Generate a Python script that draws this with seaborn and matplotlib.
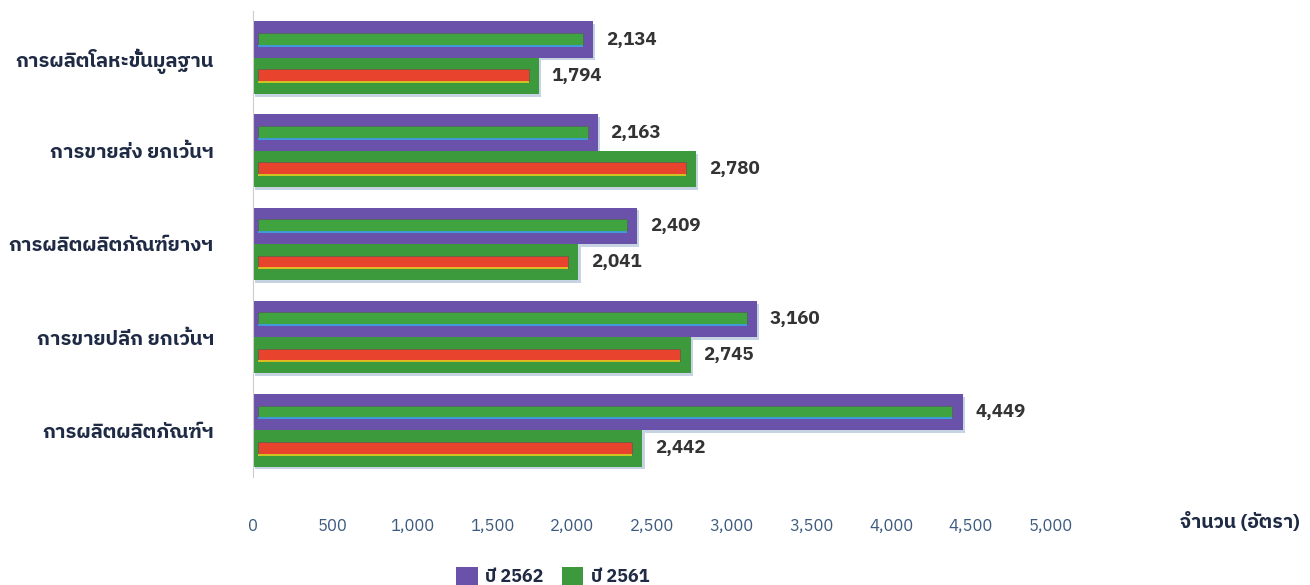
import numpy as np
import pandas as pd
import matplotlib
matplotlib.use('Agg')
import matplotlib.pyplot as plt
import seaborn as sns
from matplotlib import font_manager
from matplotlib.ft2font import FT2Font
from matplotlib import patheffects as pe

# ---------------- data ----------------
categories = ['การผลิตโลหะขั้นมูลฐาน', 'การขายส่ง ยกเว้นฯ', 'การผลิตผลิตภัณฑ์ยางฯ',
              'การขายปลีก ยกเว้นฯ', 'การผลิตผลิตภัณฑ์ฯ']
years = ['ปี 2562', 'ปี 2561']
values_2562 = [2134, 2163, 2409, 3160, 4449]
values_2561 = [1794, 2780, 2041, 2745, 2442]
xticks = np.arange(0, 5001, 500)

# ---------------- font with thai glyphs ----------------
def find_thai_font():
    found = []
    for f in font_manager.fontManager.ttflist:
        try:
            if FT2Font(f.fname).get_char_index(ord('ก')):
                found.append(f.name)
        except Exception:
            pass
    pref = [n for n in found if 'Thai' in n or 'Tahoma' in n]
    if pref:
        return pref[0]
    return found[0] if found else None

sns.set_style('white')
thai = find_thai_font()
fams = ([thai] if thai else []) + ['DejaVu Sans']
plt.rcParams['font.family'] = fams

df = pd.DataFrame({
    'cat': categories * 2,
    'val': values_2562 + values_2561,
    'year': [years[0]] * len(categories) + [years[1]] * len(categories),
})

outer = {'ปี 2562': '#6a52aa', 'ปี 2561': '#3c9a3c'}
inner = ['#3fa43f', '#e8432c']
underline = ['#3aa6e8', '#e6d21e']

fig = plt.figure(figsize=(13.1, 5.85), dpi=100)
ax = fig.add_axes([0.193, 0.185, 0.609, 0.796])

sns.barplot(data=df, y='cat', x='val', hue='year', palette=outer, orient='h',
            width=0.78, ax=ax, legend=True, saturation=1, linewidth=0)

# inner stripes on each bar, taken from seaborn patches
sb_containers = list(ax.containers)
for i, cont in enumerate(sb_containers):
    for p in cont:
        p.set_path_effects([pe.SimplePatchShadow(offset=(1.5, -2), shadow_rgbFace='#8fa8c8', alpha=0.5),
                            pe.Normal()])
        y0, h, w = p.get_y(), p.get_height(), p.get_width()
        ax.barh(y0 + h * 0.32, w - 95, left=30, height=h * 0.33, align='edge',
                color=inner[i], edgecolor='#555555', linewidth=0.4, zorder=3)
        ax.hlines(y0 + h * 0.67, 30, w - 65, color=underline[i], lw=1.2, zorder=3)
    ax.bar_label(cont, labels=[f'{v:,.0f}' for v in cont.datavalues], padding=9,
                 fontsize=13.5, fontweight='bold', color='#333333')

ax.set_xlim(0, 5000)
ax.set_ylim(len(categories) - 0.5, -0.5)
ax.set_xticks(xticks)
ax.set_xticklabels([f'{t:,}' for t in xticks], fontsize=12, color='#3d5a80')
ax.tick_params(axis='x', length=0, pad=30)
ax.tick_params(axis='y', length=0, pad=28)
for lab in ax.get_yticklabels():
    lab.set_fontsize(14.5)
    lab.set_fontweight('bold')
    lab.set_color('#1f2a44')
ax.set_xlabel('')
ax.set_ylabel('')
for s in ['top', 'right', 'bottom']:
    ax.spines[s].set_visible(False)
ax.spines['left'].set_color('#cccccc')
ax.spines['left'].set_linewidth(0.8)

fig.text(0.992, 0.108, 'จำนวน (อัตรา)', ha='right', va='center', fontsize=14,
         fontweight='bold', color='#1f2a44')

handles, labels = ax.get_legend_handles_labels()
ax.legend_.remove()
fig.legend(handles[:2], labels[:2], loc='center', bbox_to_anchor=(0.422, 0.015), ncol=2,
           frameon=False, fontsize=13, handlelength=1.2, handleheight=1.2,
           columnspacing=1.0, handletextpad=0.4, labelcolor='#1f2a44',
           prop={'weight': 'bold', 'size': 13})

fig.savefig('out.png', dpi=100)
